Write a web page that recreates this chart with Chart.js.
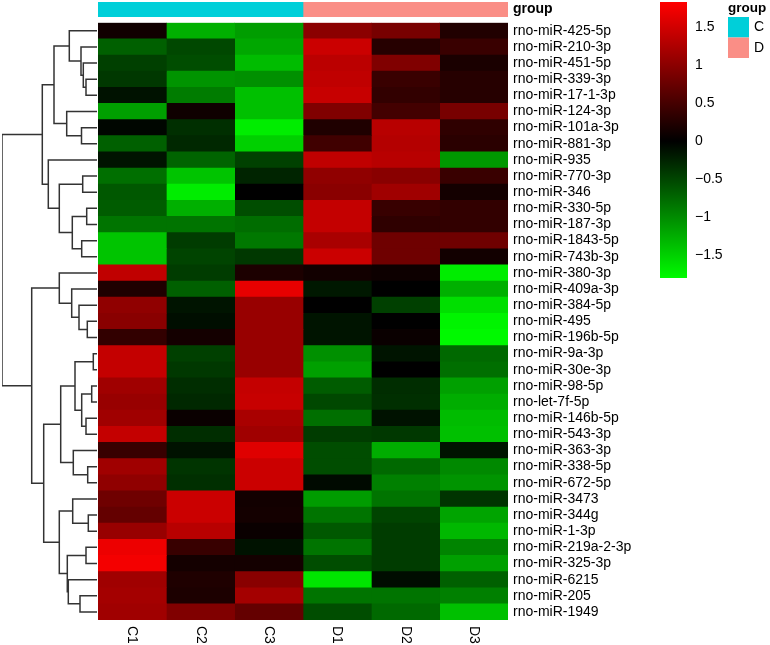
<!DOCTYPE html>
<html>
<head>
<meta charset="utf-8">
<script src="https://cdn.jsdelivr.net/npm/chart.js"></script>
<style>
  body { margin: 0; background: #fff; width: 770px; height: 645px; position: relative; overflow: hidden; }
  canvas { position: absolute; }
  #dendro { left: 0; top: 0; }
  #groupBar { left: 98px; top: 0; }
  #heat { left: 98px; top: 0; }
  #scaleBar { left: 660px; top: 0; }
</style>
</head>
<body>
<canvas id="dendro" width="98" height="645"></canvas>
<canvas id="heat" width="562" height="645"></canvas>
<canvas id="groupBar" width="562" height="20"></canvas>
<canvas id="scaleBar" width="110" height="290"></canvas>
<script>
const columns = ["C1", "C2", "C3", "D1", "D2", "D3"];
const groups = ["C", "C", "C", "D", "D", "D"];
const groupLevels = ["C", "D"];
const groupColors = ["#00CFD9", "#FA8E86"];

const rowNames = [
  "rno-miR-425-5p", "rno-miR-210-3p", "rno-miR-451-5p", "rno-miR-339-3p", "rno-miR-17-1-3p",
  "rno-miR-124-3p", "rno-miR-101a-3p", "rno-miR-881-3p", "rno-miR-935", "rno-miR-770-3p",
  "rno-miR-346", "rno-miR-330-5p", "rno-miR-187-3p", "rno-miR-1843-5p", "rno-miR-743b-3p",
  "rno-miR-380-3p", "rno-miR-409a-3p", "rno-miR-384-5p", "rno-miR-495", "rno-miR-196b-5p",
  "rno-miR-9a-3p", "rno-miR-30e-3p", "rno-miR-98-5p", "rno-let-7f-5p", "rno-miR-146b-5p",
  "rno-miR-543-3p", "rno-miR-363-3p", "rno-miR-338-5p", "rno-miR-672-5p", "rno-miR-3473",
  "rno-miR-344g", "rno-miR-1-3p", "rno-miR-219a-2-3p", "rno-miR-325-3p", "rno-miR-6215",
  "rno-miR-205", "rno-miR-1949"
];

// scaled expression, one array per sample (same order as rowNames)
const valC1 = [0.12, -0.69, -0.46, -0.4, -0.13, -1.15, -0.04, -0.69, -0.14, -0.8, -0.63, -0.66, -0.83, -1.41, -1.41,
  1.38, 0.22, 1.03, 0.98, 0.36, 1.41, 1.41, 1.15, 1.09, 1.15, 1.41, 0.4, 1.15, 1.03, 0.8, 0.72, 1.09, 1.7, 1.75, 1.15, 1.18, 1.15];
const valC2 = [-1.26, -0.52, -0.55, -1.06, -0.89, 0.11, -0.34, -0.29, -0.72, -1.41, -1.7, -1.26, -0.83, -0.43, -0.49,
  -0.43, -0.69, -0.14, -0.1, 0.14, -0.46, -0.4, -0.32, -0.29, 0.07, -0.32, -0.13, -0.37, -0.34, 1.46, 1.46, 1.32, 0.4, 0.14, 0.22, 0.2, 0.92];
const valC3 = [-1.13, -1.2, -1.35, -1.03, -1.38, -1.38, -1.7, -1.49, -0.47, -0.26, 0, -0.55, -0.78, -0.86, -0.4,
  0.2, 1.66, 1.09, 1.09, 1.09, 1.09, 1.09, 1.41, 1.43, 1.21, 1.15, 1.6, 1.46, 1.46, 0.13, 0.14, 0.07, -0.13, 0.14, 0.98, 1.18, 0.72];
const valD1 = [1.0, 1.46, 1.34, 1.38, 1.43, 0.92, 0.22, 0.46, 1.38, 1.03, 0.99, 1.41, 1.41, 1.21, 1.46,
  0.13, -0.17, 0, -0.14, -0.14, -1.03, -1.15, -0.66, -0.52, -0.8, -0.43, -0.55, -0.55, -0.07, -1.12, -0.83, -0.63, -0.83, -0.55, -1.64, -0.83, -0.55];
const valD2 = [0.86, 0.27, 0.92, 0.41, 0.36, 0.48, 1.32, 1.29, 1.32, 0.98, 1.15, 0.4, 0.34, 0.8, 0.8,
  0.09, 0, -0.46, 0, 0.07, -0.14, 0, -0.32, -0.34, -0.13, -0.4, -1.24, -0.75, -0.92, -0.83, -0.49, -0.43, -0.43, -0.43, -0.09, -0.83, -0.75];
const valD3 = [0.24, 0.41, 0.19, 0.27, 0.27, 0.86, 0.34, 0.3, -1.09, 0.41, 0.14, 0.36, 0.36, 0.8, 0.13,
  -1.7, -1.26, -1.6, -1.75, -1.79, -0.75, -0.8, -1.15, -1.24, -1.35, -1.38, -0.14, -0.98, -1.06, -0.37, -1.18, -1.32, -0.95, -1.15, -0.69, -0.92, -1.38];
const colValues = [valC1, valC2, valC3, valD1, valD2, valD3];

// row clustering, hclust style: negative = leaf (row number), positive = earlier merge
const merges = [
  [-4, -5, 11.0], [-3, 1, 13.7], [-2, 2, 16.0], [-1, 3, 27.7], [-7, -8, 15.5], [-6, 5, 30.3],
  [4, 6, 43.0], [-10, -11, 14.3], [-12, -13, 10.3], [-14, -15, 15.3], [9, 10, 24.7], [8, 11, 37.7],
  [-9, 12, 48.7], [7, 13, 54.7], [-19, -20, 9.7], [-18, 15, 18.0], [-17, 16, 25.3], [-16, 17, 37.7],
  [-21, -22, 3.7], [-23, -24, 5.3], [-25, -26, 11.0], [20, 21, 15.3], [19, 22, 22.0], [-28, -29, 9.3],
  [-27, 24, 23.7], [23, 25, 36.3], [-31, -32, 8.7], [-30, 27, 24.3], [-33, -34, 11.0], [-36, -37, 17.0],
  [-35, 30, 28.7], [29, 31, 29.7], [28, 32, 37.7], [26, 33, 53.3], [18, 34, 65.3], [14, 35, 95.0]
];

const scaleTicks = [-1.5, -1, -0.5, 0, 0.5, 1, 1.5];
const scaleMin = -1.80, scaleMax = 1.83;
const colorLim = 1.83;

Chart.defaults.font.family = "'Liberation Sans', Arial, sans-serif";
Chart.defaults.color = "#000";

function valueColor(v) {
  const t = Math.min(1, Math.abs(v) / colorLim);
  const c = Math.round(255 * t);
  return v >= 0 ? `rgb(${c},0,0)` : `rgb(0,${c},0)`;
}

const topPad = 22.7;
const bottomPad = 25;

// dendrogram
function dendroPoints() {
  const pos = [];
  const node = (ref) => ref < 0 ? { y: -ref - 0.5, h: 0 } : pos[ref - 1];
  const pts = [];
  merges.forEach(([a, b, h]) => {
    const na = node(a), nb = node(b);
    pts.push({ x: na.h, y: na.y }, { x: h, y: na.y }, { x: h, y: nb.y }, { x: nb.h, y: nb.y }, { x: null, y: null });
    pos.push({ y: (na.y + nb.y) / 2, h: h });
  });
  return pts;
}

new Chart(document.getElementById("dendro"), {
  type: "scatter",
  data: {
    datasets: [{
      data: dendroPoints(),
      showLine: true,
      spanGaps: false,
      pointRadius: 0,
      borderColor: "#333",
      borderWidth: 1.5,
    }],
  },
  options: {
    responsive: false,
    animation: false,
    layout: { padding: { top: topPad, bottom: bottomPad, left: 2, right: 1 } },
    scales: {
      x: { type: "linear", reverse: true, min: 0, max: 95, display: false },
      y: { type: "linear", reverse: true, min: 0, max: rowNames.length, display: false },
    },
    plugins: { legend: { display: false }, tooltip: { enabled: false } },
  },
});

// heatmap
const colLabels = {
  id: "colLabels",
  afterDraw(chart) {
    const { ctx, chartArea } = chart;
    const x = chart.scales.x;
    ctx.save();
    ctx.font = "14px 'Liberation Sans', Arial, sans-serif";
    ctx.fillStyle = "#000";
    ctx.textAlign = "left";
    ctx.textBaseline = "middle";
    columns.forEach((name, c) => {
      ctx.save();
      ctx.translate(x.getPixelForValue(c + 0.5), chartArea.bottom + 6);
      ctx.rotate(Math.PI / 2);
      ctx.fillText(name, 0, 0);
      ctx.restore();
    });
    ctx.restore();
  },
};

new Chart(document.getElementById("heat"), {
  type: "bar",
  data: {
    labels: rowNames,
    datasets: columns.map((col, c) => ({
      label: col,
      data: rowNames.map(() => [c, c + 1]),
      backgroundColor: colValues[c].map(valueColor),
      borderWidth: 0,
      barPercentage: 1,
      categoryPercentage: 1,
      grouped: false,
    })),
  },
  options: {
    indexAxis: "y",
    responsive: false,
    animation: false,
    layout: { padding: { top: topPad, bottom: bottomPad, left: 0, right: 0 } },
    scales: {
      x: { type: "linear", min: 0, max: columns.length, display: false },
      y: {
        position: "right",
        grid: { display: false, drawTicks: false },
        border: { display: false },
        ticks: { padding: 5, autoSkip: false, font: { size: 14 } },
        afterFit(scale) { scale.width = 152; scale.paddingTop = 0; scale.paddingBottom = 0; },
      },
    },
    plugins: { legend: { display: false }, tooltip: { enabled: false } },
  },
  plugins: [colLabels],
});

// group annotation bar
new Chart(document.getElementById("groupBar"), {
  type: "bar",
  data: {
    labels: ["group"],
    datasets: groupLevels.map((g, i) => ({
      label: g,
      data: [[groups.indexOf(g), groups.lastIndexOf(g) + 1]],
      backgroundColor: groupColors[i],
      borderWidth: 0,
      barPercentage: 1,
      categoryPercentage: 1,
      grouped: false,
    })),
  },
  options: {
    indexAxis: "y",
    responsive: false,
    animation: false,
    layout: { padding: { top: 2, bottom: 3, left: 0, right: 0 } },
    scales: {
      x: { type: "linear", min: 0, max: columns.length, display: false },
      y: {
        position: "right",
        grid: { display: false, drawTicks: false },
        border: { display: false },
        ticks: { padding: 5, font: { size: 14, weight: "bold" } },
        afterFit(scale) { scale.width = 152; scale.paddingTop = 0; scale.paddingBottom = 0; },
      },
    },
    plugins: { legend: { display: false }, tooltip: { enabled: false } },
  },
});

// colour key + group legend
const groupLegend = {
  id: "groupLegend",
  afterDraw(chart) {
    const { ctx } = chart;
    ctx.save();
    ctx.fillStyle = "#000";
    ctx.textBaseline = "middle";
    ctx.textAlign = "left";
    ctx.font = "bold 13.5px 'Liberation Sans', Arial, sans-serif";
    ctx.fillText("group", 68, 8);
    ctx.font = "14px 'Liberation Sans', Arial, sans-serif";
    groupLevels.forEach((g, i) => {
      ctx.fillStyle = groupColors[i];
      ctx.fillRect(68, 17 + i * 20.5, 21, 20.5);
      ctx.fillStyle = "#000";
      ctx.fillText(g, 94, 27.5 + i * 20.5);
    });
    ctx.restore();
  },
};

new Chart(document.getElementById("scaleBar"), {
  type: "bar",
  data: {
    labels: [""],
    datasets: [{
      data: [[scaleMin, scaleMax]],
      backgroundColor(context) {
        const chart = context.chart;
        if (!chart.chartArea) return "#000";
        const y = chart.scales.y;
        const g = chart.ctx.createLinearGradient(0, y.getPixelForValue(colorLim), 0, y.getPixelForValue(-colorLim));
        g.addColorStop(0, "#ff0000");
        g.addColorStop(0.5, "#000000");
        g.addColorStop(1, "#00ff00");
        return g;
      },
      borderWidth: 0,
      barPercentage: 1,
      categoryPercentage: 1,
    }],
  },
  options: {
    responsive: false,
    animation: false,
    layout: { padding: { top: 2, bottom: 12, left: 0, right: 0 } },
    scales: {
      x: { display: false },
      y: {
        position: "right",
        min: scaleMin,
        max: scaleMax,
        grid: { display: false, drawTicks: false },
        border: { display: false },
        afterBuildTicks(scale) { scale.ticks = scaleTicks.map((v) => ({ value: v })); },
        afterFit(scale) { scale.width = 83; scale.paddingTop = 0; scale.paddingBottom = 0; },
        ticks: {
          padding: 8,
          font: { size: 14 },
          callback: (v) => String(v).replace("-", "\u2212"),
        },
      },
    },
    plugins: { legend: { display: false }, tooltip: { enabled: false } },
  },
  plugins: [groupLegend],
});
</script>
</body>
</html>
